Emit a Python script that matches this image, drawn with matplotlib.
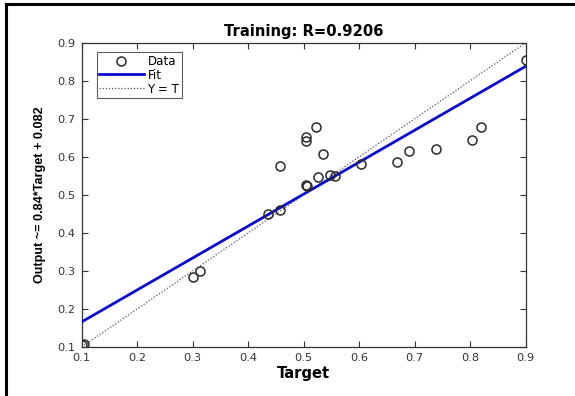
import matplotlib
matplotlib.use("Agg")
import matplotlib.pyplot as plt
from matplotlib.lines import Line2D
from matplotlib import font_manager
import numpy as np

# Data
target = [0.100, 0.105, 0.301, 0.314, 0.435, 0.457, 0.457, 0.505, 0.505, 0.505,
          0.506, 0.523, 0.526, 0.535, 0.547, 0.556, 0.604, 0.668, 0.690, 0.738,
          0.803, 0.819, 0.900]
output = [0.105, 0.109, 0.284, 0.301, 0.450, 0.460, 0.575, 0.651, 0.642, 0.527,
          0.522, 0.679, 0.546, 0.608, 0.551, 0.549, 0.581, 0.587, 0.615, 0.620,
          0.644, 0.678, 0.854]
fit_slope = 0.84
fit_intercept = 0.082
fit_x = [0.1, 0.9]
ident = [0.1, 0.9]
xticks = [0.1, 0.2, 0.3, 0.4, 0.5, 0.6, 0.7, 0.8, 0.9]
yticks = [0.1, 0.2, 0.3, 0.4, 0.5, 0.6, 0.7, 0.8, 0.9]
title = "Training: R=0.9206"
xlabel = "Target"
ylabel = "Output ~= 0.84*Target + 0.082"

plt.rcParams['font.family'] = ['DejaVu Sans']

installed = {f.name for f in font_manager.fontManager.ttflist}
if 'Liberation Sans Narrow' in installed:
    ylab_family, ylab_size = ['Liberation Sans Narrow', 'DejaVu Sans'], 10.5
else:
    ylab_family, ylab_size = ['Liberation Sans', 'DejaVu Sans'], 9.1

W, H = 575, 396
fig = plt.figure(figsize=(W / 100, H / 100), dpi=100)
left, right, top, bottom = 81.7, 525.7, 42.7, 347.0
ax = fig.add_axes([left / W, 1 - bottom / H, (right - left) / W, (bottom - top) / H])

ax.plot(target, output, linestyle='none', marker='o', markersize=6.5,
        markerfacecolor='none', markeredgecolor='#2a2a2a', markeredgewidth=1.1,
        label='Data', zorder=4)
fx = np.array(fit_x)
ax.plot(fx, fit_slope * fx + fit_intercept, color='#0a0acc', linewidth=2.0,
        label='Fit', zorder=3)
ax.plot(ident, ident, color='#555555', linestyle=(0, (1, 1.5)), linewidth=0.9,
        label='Y = T', zorder=2)

ax.set_xlim(0.1, 0.9)
ax.set_ylim(0.1, 0.9)
ax.set_xticks(xticks)
ax.set_yticks(yticks)
ax.set_xticklabels([f"{v:g}" for v in xticks])
ax.set_yticklabels([f"{v:g}" for v in yticks])
ax.tick_params(direction='in', length=4, width=0.8, colors='#333333',
               labelsize=8.2, top=True, right=True, pad=4.5)
for s in ax.spines.values():
    s.set_color('#333333')
    s.set_linewidth(0.9)

ax.set_title(title, fontsize=10.6, fontweight='bold', pad=4.5)
ax.set_xlabel(xlabel, fontsize=10.6, fontweight='bold', labelpad=2)
ax.set_ylabel(ylabel, fontsize=ylab_size, fontweight='bold', family=ylab_family,
              labelpad=8)

leg = ax.legend(loc='upper left', fontsize=8.6, frameon=True, fancybox=False,
                borderpad=0.2, labelspacing=0.08, handlelength=3.75,
                handletextpad=0.3, borderaxespad=0.0,
                bbox_to_anchor=(15.0 / 444, 1 - 9.6 / 304.3))
leg.get_frame().set_edgecolor('#333333')
leg.get_frame().set_linewidth(0.8)

# outer frame lines (left and top)
fig.add_artist(Line2D([6 / W, 6 / W], [0, 1 - 4 / H], color='black', linewidth=2.2,
                      transform=fig.transFigure))
fig.add_artist(Line2D([6 / W, 1], [1 - 4 / H, 1 - 4 / H], color='black', linewidth=2.2,
                      transform=fig.transFigure))

fig.savefig("out.png", dpi=100)
